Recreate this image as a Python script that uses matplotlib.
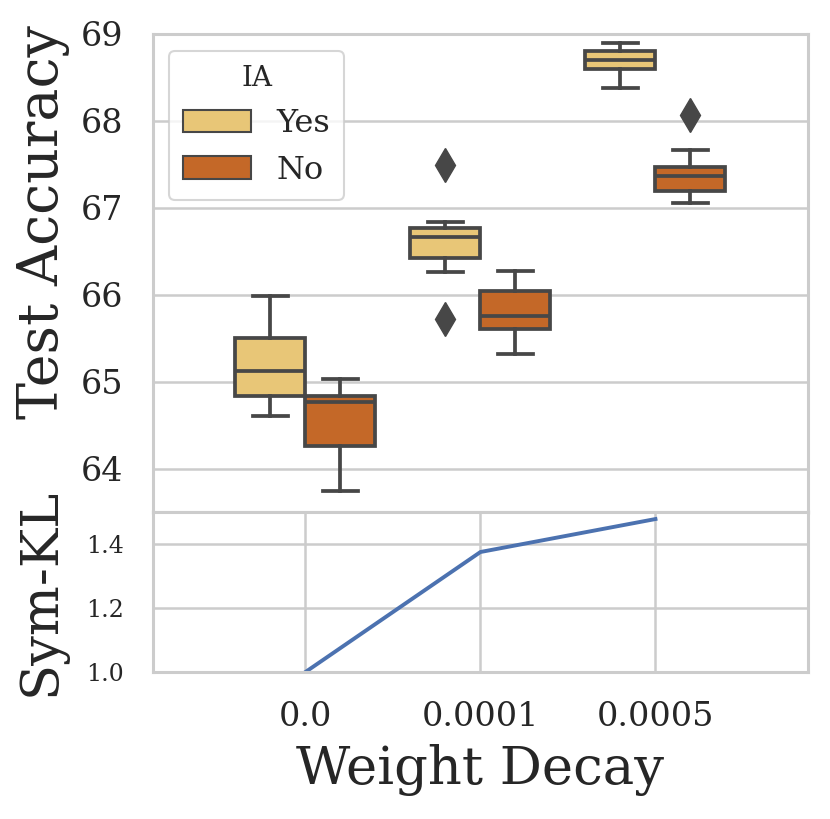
import matplotlib
matplotlib.use('Agg')
import matplotlib.pyplot as plt
from matplotlib.patches import Patch

# ---- data ----
weight_decay = ['0.0', '0.0001', '0.0005']
ia_levels = ['Yes', 'No']
yes_whislo = [64.60, 66.26, 68.38]
yes_q1 = [64.84, 66.42, 68.60]
yes_med = [65.12, 66.66, 68.70]
yes_q3 = [65.50, 66.77, 68.81]
yes_whishi = [65.98, 66.84, 68.90]
yes_fliers = [[], [67.49, 65.72], []]
no_whislo = [63.74, 65.32, 67.05]
no_q1 = [64.26, 65.60, 67.19]
no_med = [64.76, 65.76, 67.37]
no_q3 = [64.84, 66.04, 67.47]
no_whishi = [65.03, 66.27, 67.66]
no_fliers = [[], [], [68.07]]
sym_kl = [1.0, 1.375, 1.478]
acc_ticks = [64, 65, 66, 67, 68, 69]
kl_ticks = [1.0, 1.2, 1.4]

# ---- style ----
plt.rcParams['font.family'] = ['DejaVu Serif']
TXT = '#262626'
GRID = '#cccccc'
EDGE = '#474747'
colors = {'Yes': '#E8C677', 'No': '#C46828'}

W, H = 830, 819
fig = plt.figure(figsize=(W / 100, H / 100), dpi=100)
L, R = 152.7, 807.7
ax_top = fig.add_axes([L / W, 1 - 512 / H, (R - L) / W, (512 - 34) / H])
ax_bot = fig.add_axes([L / W, 1 - 672 / H, (R - L) / W, 160 / H])

xlim = (-0.873, 2.870)
LW = 2.7

series = {
    'Yes': (yes_whislo, yes_q1, yes_med, yes_q3, yes_whishi, yes_fliers, -0.2),
    'No': (no_whislo, no_q1, no_med, no_q3, no_whishi, no_fliers, 0.2),
}
for lvl in ia_levels:
    lo, q1, med, q3, hi, fl, off = series[lvl]
    stats = []
    for i in range(len(weight_decay)):
        stats.append(dict(whislo=lo[i], q1=q1[i], med=med[i], q3=q3[i],
                          whishi=hi[i], fliers=fl[i]))
    pos = [i + off for i in range(len(weight_decay))]
    ax_top.bxp(stats, positions=pos, widths=0.4, capwidths=0.2,
               patch_artist=True, showfliers=True,
               boxprops=dict(facecolor=colors[lvl], edgecolor=EDGE, linewidth=LW),
               medianprops=dict(color=EDGE, linewidth=LW),
               whiskerprops=dict(color=EDGE, linewidth=LW),
               capprops=dict(color=EDGE, linewidth=LW),
               flierprops=dict(marker='d', markerfacecolor=EDGE, markeredgecolor=EDGE,
                               markersize=17, markeredgewidth=1.0))

for ax in (ax_top, ax_bot):
    ax.set_facecolor('white')
    ax.set_axisbelow(True)
    ax.set_xlim(*xlim)
    for s in ax.spines.values():
        s.set_color(GRID)
        s.set_linewidth(2.2)
    ax.tick_params(length=0, colors=TXT)

ax_top.set_ylim(63.5, 69)
ax_top.set_yticks(acc_ticks)
ax_top.set_yticklabels([str(t) for t in acc_ticks], fontsize=24)
ax_top.tick_params(axis='y', pad=21)
ax_top.set_xticks([0, 1, 2])
ax_top.set_xticklabels([])
ax_top.yaxis.grid(True, color=GRID, linewidth=1.8)
ax_top.xaxis.grid(False)
ax_top.set_ylabel('Test Accuracy', fontsize=40, color=TXT)
ax_top.yaxis.set_label_coords(-0.127, 0.607)

handles = [Patch(facecolor=colors[l], edgecolor=EDGE, linewidth=1.5, label=l) for l in ia_levels]
leg = ax_top.legend(handles=handles, title='IA', loc='upper left',
                    bbox_to_anchor=(0.025, 0.965), borderaxespad=0.0,
                    fontsize=23, title_fontsize=20,
                    handlelength=2.1, handleheight=0.72, handletextpad=0.8,
                    labelspacing=0.5, borderpad=0.45, frameon=True, fancybox=True)
leg.get_frame().set_edgecolor(GRID)
leg.get_frame().set_linewidth(1.5)
for t in leg.get_texts():
    t.set_color(TXT)
leg.get_title().set_color(TXT)

xs = list(range(len(weight_decay)))
ax_bot.plot(xs, sym_kl, color='#4C72B0', linewidth=2.8)
ax_bot.set_ylim(1.0, 1.5)
ax_bot.set_yticks(kl_ticks)
ax_bot.set_yticklabels([f'{t:.1f}' for t in kl_ticks], fontsize=17)
ax_bot.set_xticks(xs)
ax_bot.set_xticklabels(weight_decay, fontsize=24)
ax_bot.tick_params(axis='y', pad=21)
ax_bot.tick_params(axis='x', pad=21)
ax_bot.grid(True, color=GRID, linewidth=1.8)
ax_bot.set_ylabel('Sym-KL', fontsize=38, color=TXT)
ax_bot.yaxis.set_label_coords(-0.132, 0.5)
ax_bot.set_xlabel('Weight Decay', fontsize=38, color=TXT, labelpad=8)

fig.savefig('out.png', dpi=100, facecolor='white')
